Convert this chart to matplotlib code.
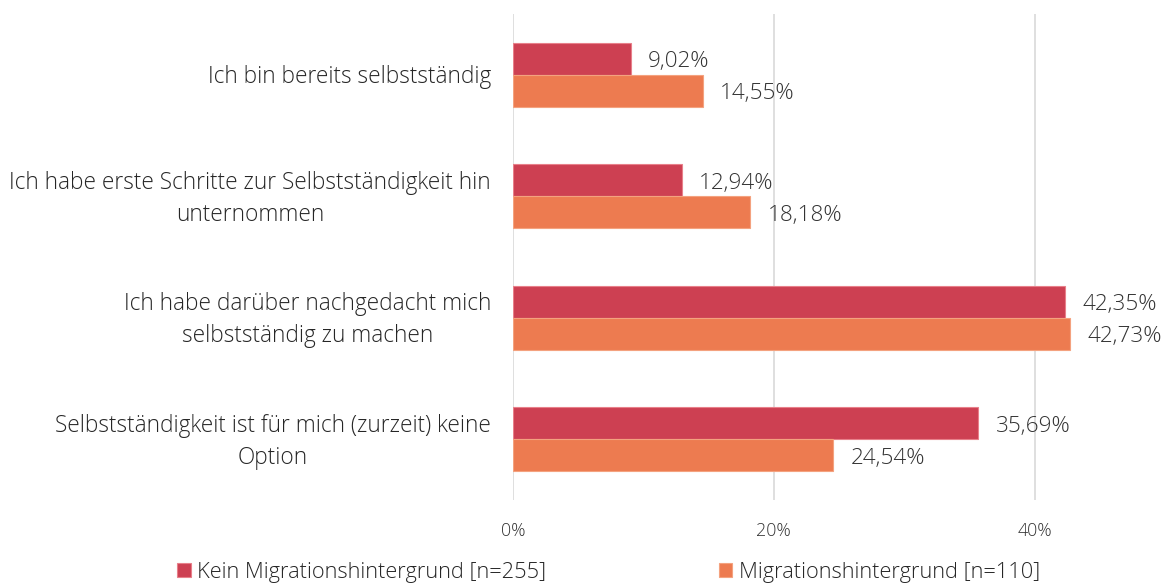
import matplotlib
matplotlib.use("Agg")
import matplotlib.pyplot as plt
import numpy as np

categories = [
    "Ich bin bereits selbstständig",
    "Ich habe erste Schritte zur Selbstständigkeit hin\nunternommen",
    "Ich habe darüber nachgedacht mich\nselbstständig zu machen",
    "Selbstständigkeit ist für mich (zurzeit) keine\nOption",
]
series_names = ["Kein Migrationshintergrund [n=255]", "Migrationshintergrund [n=110]"]
kein_mig = [9.02, 12.94, 42.35, 35.69]
mig = [14.55, 18.18, 42.73, 24.54]
xticks = [0, 20, 40]
xtick_labels = ["0%", "20%", "40%"]

colors = ["#CD4052", "#ED7B50"]
edge_colors = ["#E8808A", "#F4A27F"]

plt.rcParams['font.family'] = ['Open Sans', 'DejaVu Sans']
plt.rcParams['font.weight'] = 300

fig = plt.figure(figsize=(11.68, 5.83), dpi=100)
ax = fig.add_axes([0.4392, 0.1424, 0.5582, 0.8336])

y = np.arange(len(categories))
h = 0.262
for i, (vals, name) in enumerate(zip([kein_mig, mig], series_names)):
    pos = y - h / 2 + i * h
    ax.barh(pos, vals, height=h, color=colors[i], edgecolor=edge_colors[i],
            linewidth=0.8, label=name, zorder=3)
    for p, v in zip(pos, vals):
        ax.text(v + 1.35, p + 0.025, f"{v:.2f}%".replace(".", ","), va="center", ha="left",
                fontsize=16.2, color="#333333", zorder=4, fontweight=300)

ax.set_ylim(len(categories) - 0.5, -0.5)
ax.set_xlim(0, 50)
ax.set_yticks(y)
ax.set_yticklabels([])
ytrans = ax.get_yaxis_transform()
for yi, cat in zip(y, categories):
    ax.text(-22 / 652, yi + 0.022, cat, transform=ytrans, ha="right", va="center",
            multialignment="center", linespacing=1.45, fontsize=16.3,
            color="#262626", fontweight=300, clip_on=False)
ax.set_xticks(xticks)
ax.set_xticklabels(xtick_labels, fontsize=12.8, color="#333333", fontweight=300)
ax.tick_params(axis="both", length=0)
ax.tick_params(axis="x", pad=15.5)
ax.grid(axis="x", color="#D9D9D9", linewidth=1.2, zorder=0)
for s in ax.spines.values():
    s.set_visible(False)

leg = fig.legend(loc="center", bbox_to_anchor=(0.521, 10.5 / 583), ncol=2,
                 frameon=False, prop={'size': 15.7, 'weight': 300},
                 handlelength=0.62, handleheight=0.62,
                 handletextpad=0.3, columnspacing=7.9, borderpad=0)
for t in leg.get_texts():
    t.set_color("#262626")

fig.savefig("out.png", dpi=100)
